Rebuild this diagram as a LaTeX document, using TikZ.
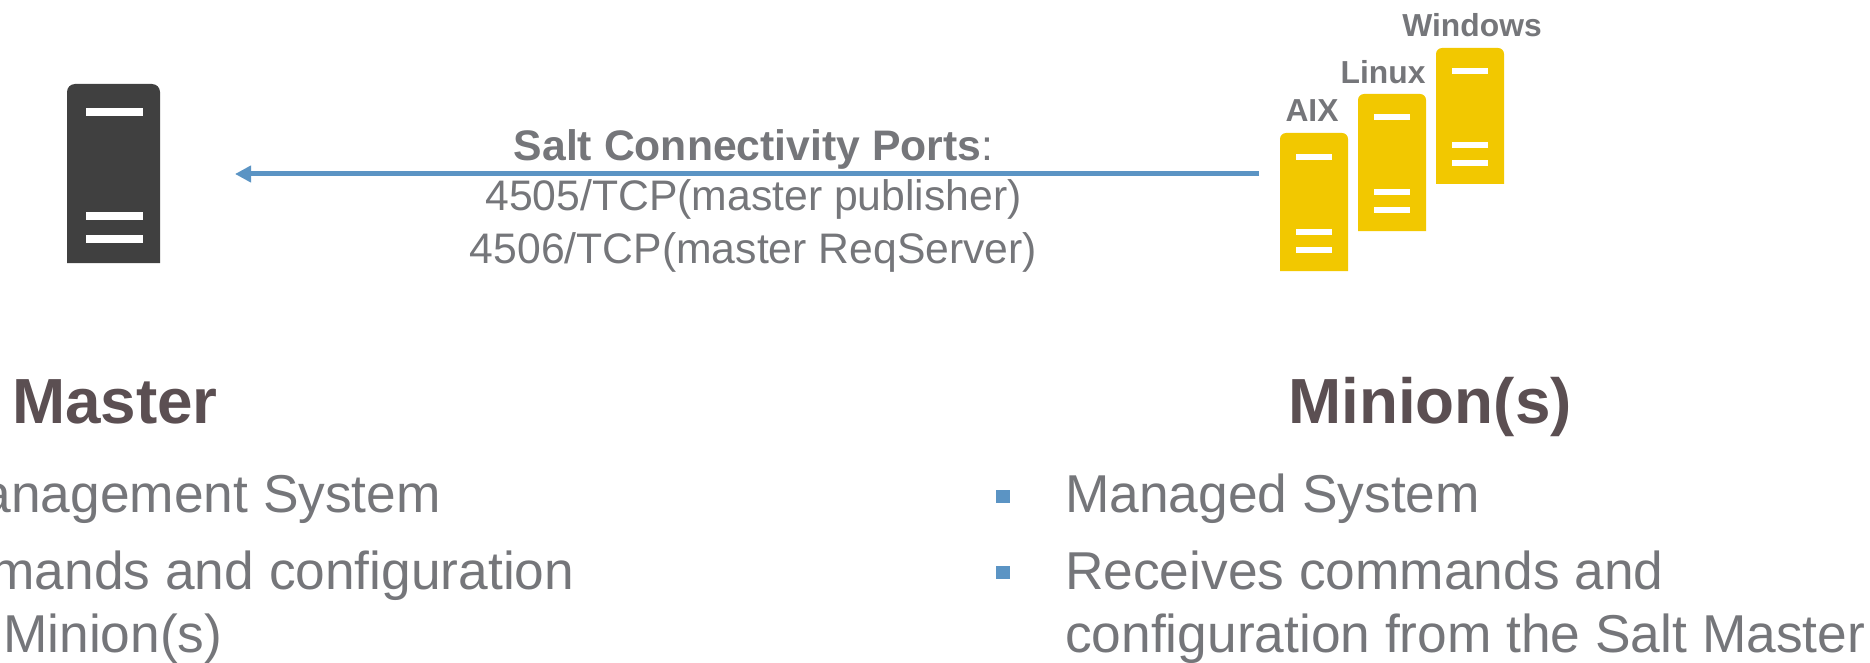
\documentclass[tikz,border=0pt]{standalone}
\usepackage{fontspec}
\setmainfont{Liberation Sans}
\usetikzlibrary{arrows.meta}
\definecolor{bodygray}{HTML}{75767A}
\definecolor{headbrown}{HTML}{5B4F52}
\definecolor{linkblue}{HTML}{5B94C4}
\definecolor{srvyellow}{HTML}{F2C800}
\definecolor{srvdark}{HTML}{404040}
\tikzset{
  x=1pt,y=-1pt,
  osname/.style={inner sep=0pt,anchor=base,text=bodygray,font=\fontsize{31.8}{31.8}\selectfont\bfseries},
  ports/.style={inner sep=0pt,anchor=base,text=bodygray,font=\fontsize{42.7}{42.7}\selectfont},
  heading/.style={inner sep=0pt,anchor=base,text=headbrown,font=\fontsize{63.8}{63.8}\selectfont\bfseries},
  bodytext/.style={inner sep=0pt,text=bodygray,font=\fontsize{53.3}{53.3}\selectfont},
  bulletbox/.style={fill=linkblue,inner sep=0pt,minimum width=14pt,minimum height=13pt,anchor=center},
  link/.style={draw=linkblue,line width=5pt,-{Triangle[length=16pt,width=16pt]}},
}
\newcommand{\srvbody}[6]{\fill[#1,rounded corners=#6pt] (#2,#5) [sharp corners] -- (#2,#3+10) [rounded corners=#6pt] -- (#2,#3) -- (#4,#3) [sharp corners] -- (#4,#3+10) -- (#4,#5) -- cycle;}
\newcommand{\srvbar}[4]{\fill[white] (#1,#3-#4/2) rectangle (#2,#3+#4/2);}
\begin{document}
\begin{tikzpicture}
\useasboundingbox (0,0) rectangle (1870,663);
\clip (0,0) rectangle (1870,663);
\fill[white] (0,0) rectangle (1870,663);

% master server
\srvbody{srvdark}{67}{84}{160}{263}{8}
\srvbar{85.5}{142.5}{112}{8}
\srvbar{85.5}{142.5}{216}{8}
\srvbar{85.5}{142.5}{239}{8}

% minion servers
\srvbody{srvyellow}{1280}{133}{1348}{271}{6}
\srvbar{1296}{1332}{157}{6}
\srvbar{1296}{1332}{232}{6}
\srvbar{1296}{1332}{250}{6}

\srvbody{srvyellow}{1358}{94}{1426}{231}{6}
\srvbar{1374}{1410}{117}{6}
\srvbar{1374}{1410}{192}{6}
\srvbar{1374}{1410}{210}{6}

\srvbody{srvyellow}{1436}{48}{1504}{184}{6}
\srvbar{1452}{1488}{71}{6}
\srvbar{1452}{1488}{145}{6}
\srvbar{1452}{1488}{163}{6}

% OS labels
\node[osname] (win) at (1472,36.5) {Windows};
\node[osname] (lin) at (1383,83.5) {Linux};
\node[osname] (aix) at (1312,121.5) {AIX};

% connector
\coordinate (linktail) at (1259,174);
\coordinate (linktip) at (235,174);
\draw[link] (linktail) -- (linktip);

% port labels
\node[ports] (salt) at (753.5,160.5) {\textbf{Salt Connectivity Ports}:};
\node[ports] (p4505) at (753.5,211) {4505/TCP(master publisher)};
\node[ports] (p4506) at (753.5,263) {4506/TCP(master ReqServer)};

% headings
\node[heading] (master) at (115,423.5) {Master};
\node[heading] (minion) at (1430,423.5) {Minion(s)};

% master text (cut off by the left edge)
\node[bodytext,anchor=base east] (m1) at (441,512.5) {anagement System};
\node[bodytext,anchor=base east] (m2) at (574.5,589.5) {mands and configuration};
\node[bodytext,anchor=base west] (m3) at (3,652.5) {Minion(s)};

% minion text
\node[bulletbox] (b1) at (1003,496.5) {};
\node[bulletbox] (b2) at (1003,572) {};
\node[bodytext,anchor=base west] (t1) at (1065,512.5) {Managed System};
\node[bodytext,anchor=base west] (t2) at (1065,589.5) {Receives commands and};
\node[bodytext,anchor=base west] (t3) at (1065,652.5) {configuration from the Salt Master};
\end{tikzpicture}
\end{document}
